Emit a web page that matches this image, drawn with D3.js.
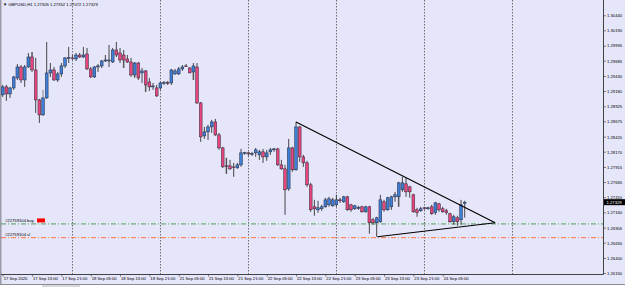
<!DOCTYPE html>
<html>
<head>
<meta charset="utf-8">
<script src="https://cdn.jsdelivr.net/npm/d3@7"></script>
<style>
html, body { margin: 0; padding: 0; background: #e6e6fa; }
svg { display: block; font-family: "Liberation Sans", Arial, sans-serif; }
</style>
</head>
<body>
<div id="chart"></div>
<script>
// GBPUSD H1, one entry per hourly bar starting 17 Sep 2020 05:00
const open = [
	1.29115, 1.29248, 1.29131, 1.29231, 1.29397, 1.29580, 1.29364, 1.29580, 1.29746, 1.29530,
	1.29031, 1.28782, 1.29065, 1.29480, 1.29530, 1.29364, 1.29464, 1.29597, 1.29730, 1.29730,
	1.29713, 1.29779, 1.29746, 1.29796, 1.29547, 1.29414, 1.29580, 1.29597, 1.29680, 1.29680,
	1.29663, 1.29863, 1.29813, 1.29779, 1.29713, 1.29663, 1.29447, 1.29646, 1.29480, 1.29514,
	1.29331, 1.29248, 1.29231, 1.29231, 1.29314, 1.29320, 1.29314, 1.29464, 1.29464, 1.29547,
	1.29597, 1.29563, 1.29497, 1.29580, 1.28981, 1.28432, 1.28499, 1.28582, 1.28665, 1.28449,
	1.28233, 1.27934, 1.27934, 1.27917, 1.27901, 1.27950, 1.28150, 1.28150, 1.28133, 1.28150,
	1.28117, 1.28167, 1.28083, 1.28167, 1.28200, 1.28216, 1.27950, 1.27884, 1.27551, 1.28233,
	1.27868, 1.28582, 1.28083, 1.27984, 1.27618, 1.27252, 1.27202, 1.27219, 1.27252, 1.27285,
	1.27269, 1.27285, 1.27368, 1.27335, 1.27418, 1.27285, 1.27219, 1.27236, 1.27252, 1.27169,
	1.27252, 1.27036, 1.26986, 1.27003, 1.27335, 1.27202, 1.27252, 1.27418, 1.27418, 1.27535,
	1.27635, 1.27585, 1.27452, 1.27202, 1.27186, 1.27236, 1.27219, 1.27252, 1.27153, 1.27302,
	1.27219, 1.27186, 1.27136, 1.27003, 1.27069, 1.27036, 1.27305
];
const high = [
	1.29281, 1.29281, 1.29248, 1.29431, 1.29630, 1.29613, 1.29613, 1.29813, 1.29829, 1.29730,
	1.29048, 1.29031, 1.29996, 1.29646, 1.29580, 1.29497, 1.29646, 1.29746, 1.29913, 1.29779,
	1.29813, 1.29813, 1.29913, 1.29896, 1.29580, 1.29597, 1.29630, 1.29696, 1.29779, 1.29946,
	1.29896, 1.29996, 1.29896, 1.29863, 1.29779, 1.29730, 1.29663, 1.29663, 1.29563, 1.29530,
	1.29397, 1.29314, 1.29281, 1.29331, 1.29347, 1.29347, 1.29547, 1.29547, 1.29580, 1.29613,
	1.29630, 1.29580, 1.29646, 1.29646, 1.28998, 1.28582, 1.28616, 1.28699, 1.28715, 1.28482,
	1.28250, 1.28067, 1.28033, 1.27984, 1.27984, 1.28216, 1.28167, 1.28167, 1.28167, 1.28233,
	1.28200, 1.28216, 1.28200, 1.28233, 1.28233, 1.28233, 1.28033, 1.27950, 1.28383, 1.28250,
	1.28665, 1.28599, 1.28117, 1.28017, 1.27651, 1.27368, 1.27352, 1.27285, 1.27402, 1.27418,
	1.27402, 1.27452, 1.27402, 1.27435, 1.27435, 1.27302, 1.27285, 1.27269, 1.27269, 1.27269,
	1.27269, 1.27069, 1.27086, 1.27452, 1.27368, 1.27418, 1.27435, 1.27501, 1.27668, 1.27751,
	1.27734, 1.27601, 1.27468, 1.27236, 1.27252, 1.27252, 1.27252, 1.27285, 1.27335, 1.27318,
	1.27252, 1.27219, 1.27153, 1.27119, 1.27103, 1.27368, 1.27352
];
const low = [
	1.29081, 1.29015, 1.29065, 1.29198, 1.29364, 1.29314, 1.29248, 1.29563, 1.29497, 1.28815,
	1.28649, 1.28765, 1.29048, 1.29414, 1.29347, 1.29331, 1.29414, 1.29563, 1.29646, 1.29696,
	1.29680, 1.29730, 1.29730, 1.29530, 1.29397, 1.29397, 1.29497, 1.29563, 1.29663, 1.29580,
	1.29646, 1.29746, 1.29646, 1.29563, 1.29646, 1.29414, 1.29397, 1.29364, 1.29314, 1.29165,
	1.29181, 1.29198, 1.29081, 1.29198, 1.29281, 1.29281, 1.29281, 1.29447, 1.29447, 1.29514,
	1.29580, 1.29480, 1.29364, 1.28965, 1.28333, 1.28383, 1.28366, 1.28482, 1.28432, 1.28200,
	1.27901, 1.27801, 1.27868, 1.27751, 1.27884, 1.27917, 1.28117, 1.28100, 1.28100, 1.28083,
	1.28033, 1.27984, 1.28017, 1.28117, 1.28167, 1.27934, 1.27868, 1.27119, 1.27518, 1.27834,
	1.27851, 1.28000, 1.27917, 1.27585, 1.27169, 1.27103, 1.27153, 1.27186, 1.27236, 1.27252,
	1.27252, 1.27252, 1.27318, 1.27318, 1.27186, 1.27169, 1.27202, 1.27202, 1.27153, 1.27153,
	1.26803, 1.26953, 1.26753, 1.26986, 1.27169, 1.27186, 1.27202, 1.27335, 1.27252, 1.27501,
	1.27418, 1.27402, 1.27153, 1.27086, 1.27169, 1.27202, 1.27202, 1.27119, 1.27119, 1.27169,
	1.27153, 1.27119, 1.26986, 1.26953, 1.26936, 1.26953, 1.27072
];
const close = [
	1.29248, 1.29131, 1.29231, 1.29414, 1.29580, 1.29364, 1.29580, 1.29746, 1.29530, 1.29031,
	1.28782, 1.29065, 1.29480, 1.29530, 1.29364, 1.29464, 1.29597, 1.29730, 1.29735, 1.29725,
	1.29779, 1.29746, 1.29779, 1.29547, 1.29414, 1.29580, 1.29597, 1.29680, 1.29696, 1.29696,
	1.29863, 1.29779, 1.29696, 1.29696, 1.29663, 1.29447, 1.29646, 1.29397, 1.29514, 1.29281,
	1.29248, 1.29264, 1.29098, 1.29314, 1.29320, 1.29310, 1.29530, 1.29514, 1.29547, 1.29580,
	1.29592, 1.29480, 1.29597, 1.28981, 1.28416, 1.28499, 1.28582, 1.28665, 1.28449, 1.28233,
	1.27917, 1.27928, 1.27884, 1.27912, 1.27950, 1.28150, 1.28155, 1.28133, 1.28138, 1.28200,
	1.28167, 1.28083, 1.28150, 1.28200, 1.28216, 1.27950, 1.27884, 1.27535, 1.28233, 1.27868,
	1.28582, 1.28083, 1.27984, 1.27618, 1.27202, 1.27219, 1.27236, 1.27252, 1.27368, 1.27385,
	1.27368, 1.27368, 1.27352, 1.27418, 1.27202, 1.27202, 1.27269, 1.27240, 1.27169, 1.27252,
	1.26986, 1.26986, 1.27069, 1.27368, 1.27202, 1.27402, 1.27418, 1.27452, 1.27651, 1.27651,
	1.27501, 1.27501, 1.27169, 1.27153, 1.27219, 1.27230, 1.27236, 1.27136, 1.27318, 1.27202,
	1.27169, 1.27153, 1.27003, 1.27086, 1.27003, 1.27285, 1.27329
];

// light grey shadow bars seen behind a few candles: [bar, top, bottom]
const shadows = [
	[8, 1.29829, 1.29746], [11, 1.29198, 1.28998], [33, 1.29696, 1.29563],
	[36, 1.29563, 1.29414], [39, 1.29281, 1.29165], [52, 1.29497, 1.29364],
	[61, 1.28067, 1.27801], [108, 1.27418, 1.27252]
];

const priceTicks = [
	1.30440, 1.30190, 1.29935, 1.29685, 1.29430, 1.29180, 1.28925, 1.28675, 1.28420,
	1.28170, 1.27915, 1.27665, 1.27410, 1.27160, 1.26905, 1.26655, 1.26400, 1.26150
];
const timeBars = [0, 8, 16, 24, 32, 40, 48, 56, 64, 72, 80, 88, 96, 104, 112, 120];
const timeLabels = [
	'17 Sep 2020', '17 Sep 13:00', '17 Sep 21:00', '18 Sep 05:00', '18 Sep 13:00',
	'18 Sep 21:00', '21 Sep 05:00', '21 Sep 13:00', '21 Sep 21:00', '22 Sep 05:00',
	'22 Sep 13:00', '22 Sep 21:00', '23 Sep 05:00', '23 Sep 13:00', '23 Sep 21:00',
	'24 Sep 05:00'
];
const daySeparators = [19, 43, 67, 91, 115, 139];

const orders = [
	{ label: '#22759104 buy', price: 1.26967, color: '#3f9a45' },
	{ label: '#22759104 sl', price: 1.26738, color: '#ff6a2a' }
];
// triangle drawn on the chart, ends given as [bar, price]
const trendLines = [
	[[80, 1.28665], [134.3, 1.26986]],
	[[102.2, 1.26753], [134.3, 1.26986]]
];
const title = 'GBPUSD,H1  1.27305 1.27352 1.27072 1.27329';

const size = { width: 625, height: 287 };
const plot = { left: 1, right: 603, top: 0, bottom: 274 };

const scale = {
	x: d3.scaleLinear().domain([0, 126]).range([2.7, 464.7]),
	y: d3.scaleLinear().domain([1.26150, 1.30440]).range([273, 15.3]),
};

const svg = d3.select('#chart').append('svg')
	.attr('width', size.width).attr('height', size.height);

svg.append('rect').attr('width', size.width).attr('height', size.height).attr('fill', '#e6e6fa');

// window edge on the left, tab strip at the bottom
svg.append('rect').attr('x', 0).attr('y', 0).attr('width', 1.5).attr('height', 284).attr('fill', '#9a9aa8');
svg.append('rect').attr('x', 0).attr('y', 284).attr('width', size.width).attr('height', 3).attr('fill', '#ffffff');
svg.append('line').attr('x1', 0).attr('x2', size.width).attr('y1', 284.5).attr('y2', 284.5)
	.attr('stroke', '#6e6e6e').attr('stroke-width', 0.8);
svg.append('rect').attr('x', 42).attr('y', 285).attr('width', 38).attr('height', 2).attr('fill', '#d8d8e0');

// day separators
svg.append('g').selectAll('line').data(daySeparators).join('line')
	.attr('x1', (d) => Math.round(scale.x(d)) + 0.5).attr('x2', (d) => Math.round(scale.x(d)) + 0.5)
	.attr('y1', plot.top).attr('y2', plot.bottom)
	.attr('stroke', '#505050').attr('stroke-width', 0.8).attr('stroke-dasharray', '1.5,1.5');

// order lines
const orderG = svg.append('g');
orderG.selectAll('line').data(orders).join('line')
	.attr('x1', plot.left).attr('x2', plot.right)
	.attr('y1', (d) => scale.y(d.price)).attr('y2', (d) => scale.y(d.price))
	.attr('stroke', (d) => d.color).attr('stroke-width', 0.9).attr('stroke-dasharray', '5,2,1,2');
orderG.selectAll('text').data(orders).join('text')
	.attr('x', 5).attr('y', (d) => scale.y(d.price) - 1.6)
	.attr('font-size', 4.2).attr('fill', '#000').text((d) => d.label);
orderG.append('rect').attr('x', 37).attr('y', scale.y(orders[0].price) - 5.5)
	.attr('width', 8).attr('height', 4).attr('fill', '#ff0000');

// grey shadows
svg.append('g').selectAll('rect').data(shadows).join('rect')
	.attr('x', (d) => scale.x(d[0]) - 1).attr('width', 2)
	.attr('y', (d) => scale.y(d[1])).attr('height', (d) => scale.y(d[2]) - scale.y(d[1]))
	.attr('fill', '#b4b4bc');

// candles
const bars = d3.range(open.length);
const candles = svg.append('g');
candles.selectAll('line').data(bars).join('line')
	.attr('x1', (i) => scale.x(i)).attr('x2', (i) => scale.x(i))
	.attr('y1', (i) => scale.y(high[i])).attr('y2', (i) => scale.y(low[i]))
	.attr('stroke', '#333').attr('stroke-width', 0.9);
candles.selectAll('rect').data(bars).join('rect')
	.attr('x', (i) => scale.x(i) - 1.4).attr('width', 2.8)
	.attr('y', (i) => scale.y(Math.max(open[i], close[i])))
	.attr('height', (i) => Math.max(0.8, Math.abs(scale.y(open[i]) - scale.y(close[i]))))
	.attr('fill', (i) => close[i] >= open[i] ? '#3d7fd9' : '#e8457f')
	.attr('stroke', '#2a2a38').attr('stroke-width', 0.5);

// trend lines
svg.append('g').selectAll('line').data(trendLines).join('line')
	.attr('x1', (d) => scale.x(d[0][0])).attr('y1', (d) => scale.y(d[0][1]))
	.attr('x2', (d) => scale.x(d[1][0])).attr('y2', (d) => scale.y(d[1][1]))
	.attr('stroke', '#000').attr('stroke-width', 1.1);

// frame
svg.append('line').attr('x1', plot.right + 0.5).attr('x2', plot.right + 0.5)
	.attr('y1', plot.top).attr('y2', plot.bottom + 0.5).attr('stroke', '#303030').attr('stroke-width', 0.9);
svg.append('line').attr('x1', plot.left).attr('x2', plot.right + 0.5)
	.attr('y1', plot.bottom + 0.5).attr('y2', plot.bottom + 0.5).attr('stroke', '#303030').attr('stroke-width', 0.9);

// price axis
const axisY = svg.append('g').attr('transform', `translate(${plot.right + 0.5},0)`)
	.call(d3.axisRight(scale.y).tickValues(priceTicks).tickFormat(d3.format('.5f')).tickSize(2.5).tickPadding(1));
axisY.select('.domain').remove();
axisY.selectAll('line').attr('stroke', '#303030').attr('stroke-width', 0.6);
axisY.selectAll('text').attr('font-size', 4.2).attr('fill', '#000').attr('font-family', null);

// current price tag
const last = close[close.length - 1];
svg.append('rect').attr('x', plot.right + 1).attr('y', scale.y(last) - 3)
	.attr('width', 21).attr('height', 6).attr('fill', '#000');
svg.append('text').attr('x', plot.right + 3.5).attr('y', scale.y(last) + 1.5)
	.attr('font-size', 4.2).attr('fill', '#fff').text(d3.format('.5f')(last));

// time axis
const axisX = svg.append('g').attr('transform', `translate(0,${plot.bottom + 0.5})`)
	.call(d3.axisBottom(scale.x).tickValues(timeBars).tickFormat((d, i) => timeLabels[i]).tickSize(2).tickPadding(0.5));
axisX.select('.domain').remove();
axisX.selectAll('line').attr('stroke', '#303030').attr('stroke-width', 0.6);
axisX.selectAll('text').attr('font-size', 4.2).attr('fill', '#000').attr('font-family', null)
	.attr('text-anchor', 'start').attr('dx', 0.5);

// title
svg.append('text').attr('x', 3).attr('y', 6).attr('font-size', 4.2).attr('fill', '#000')
	.text('\u25BC ' + title);
</script>
</body>
</html>
